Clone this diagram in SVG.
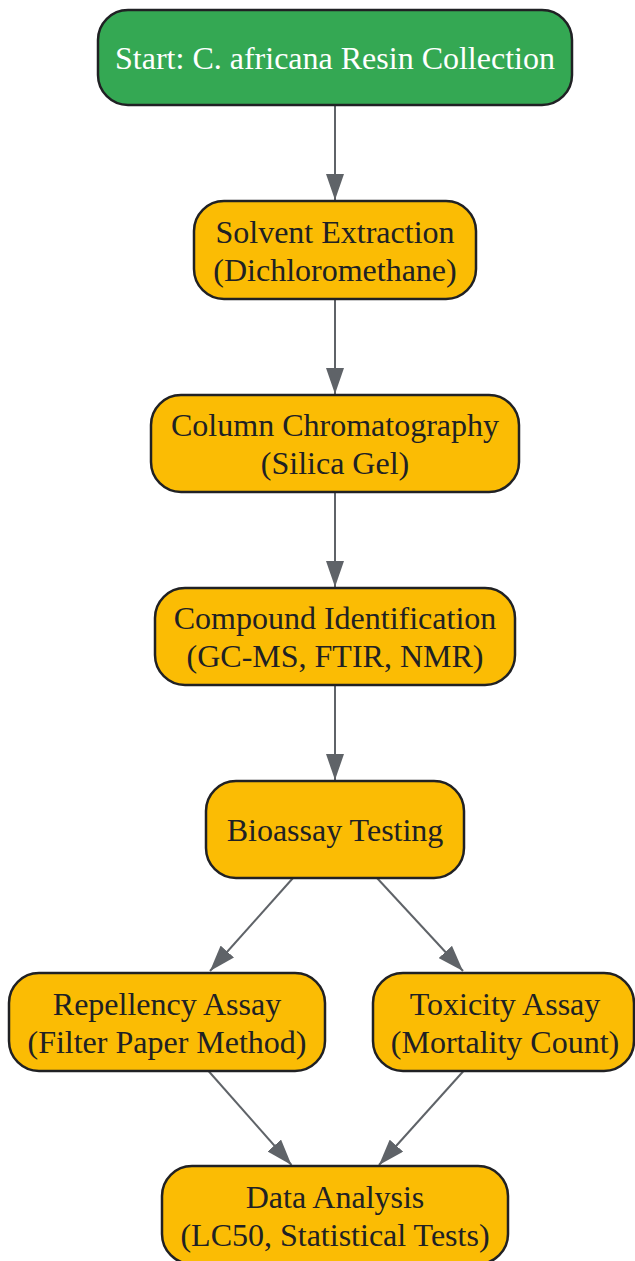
<svg xmlns="http://www.w3.org/2000/svg" width="635" height="1261" viewBox="0 0 635 1261">
<defs>
<marker id="ah" markerUnits="userSpaceOnUse" markerWidth="26" markerHeight="18" refX="26" refY="9" orient="auto">
<path d="M0,0 L26,9 L0,18 z" fill="#5f6368"/>
</marker>
</defs>
<style>
.box{fill:#fbbc04;stroke:#202124;stroke-width:2.5}
.start{fill:#34a853;stroke:#202124;stroke-width:2.5}
.t{font-family:"Liberation Serif","Times New Roman",serif;font-size:32px;fill:#202124;text-anchor:middle}
.tw{fill:#ffffff}
.e{stroke:#5f6368;stroke-width:2;fill:none;marker-end:url(#ah)}
</style>
<rect width="635" height="1261" fill="#ffffff"/>
<g id="connectors">
<line class="e" x1="335" y1="105" x2="335" y2="200"/>
<line class="e" x1="335" y1="299" x2="335" y2="394"/>
<line class="e" x1="335" y1="492" x2="335" y2="587"/>
<line class="e" x1="335" y1="685" x2="335" y2="780"/>
<line class="e" x1="293" y1="878" x2="210" y2="971"/>
<line class="e" x1="377" y1="878" x2="463" y2="971"/>
<line class="e" x1="208.5" y1="1071" x2="291.5" y2="1165"/>
<line class="e" x1="463.5" y1="1071" x2="379" y2="1165"/>
</g>
<g id="start">
<rect class="start" x="98" y="10" width="474" height="95" rx="30"/>
<text class="t tw" x="335" y="69">Start: C. africana Resin Collection</text>
</g>
<g id="solvent">
<rect class="box" x="194" y="201" width="282" height="98" rx="30"/>
<text class="t" x="335" y="243">Solvent Extraction</text>
<text class="t" x="335" y="281">(Dichloromethane)</text>
</g>
<g id="column">
<rect class="box" x="151" y="395" width="368" height="97" rx="30"/>
<text class="t" x="335" y="436">Column Chromatography</text>
<text class="t" x="335" y="474">(Silica Gel)</text>
</g>
<g id="compound">
<rect class="box" x="155" y="588" width="360" height="97" rx="30"/>
<text class="t" x="335" y="629">Compound Identification</text>
<text class="t" x="335" y="667">(GC-MS, FTIR, NMR)</text>
</g>
<g id="bioassay">
<rect class="box" x="206" y="781" width="258" height="97" rx="30"/>
<text class="t" x="335" y="841">Bioassay Testing</text>
</g>
<g id="repellency">
<rect class="box" x="9" y="973" width="316" height="98" rx="30"/>
<text class="t" x="167" y="1015">Repellency Assay</text>
<text class="t" x="167" y="1053">(Filter Paper Method)</text>
</g>
<g id="toxicity">
<rect class="box" x="373" y="973" width="261" height="98" rx="30"/>
<text class="t" x="505" y="1015">Toxicity Assay</text>
<text class="t" x="505" y="1053">(Mortality Count)</text>
</g>
<g id="data">
<rect class="box" x="162" y="1166" width="346" height="98" rx="30"/>
<text class="t" x="335" y="1208">Data Analysis</text>
<text class="t" x="335" y="1246">(LC50, Statistical Tests)</text>
</g>
</svg>
